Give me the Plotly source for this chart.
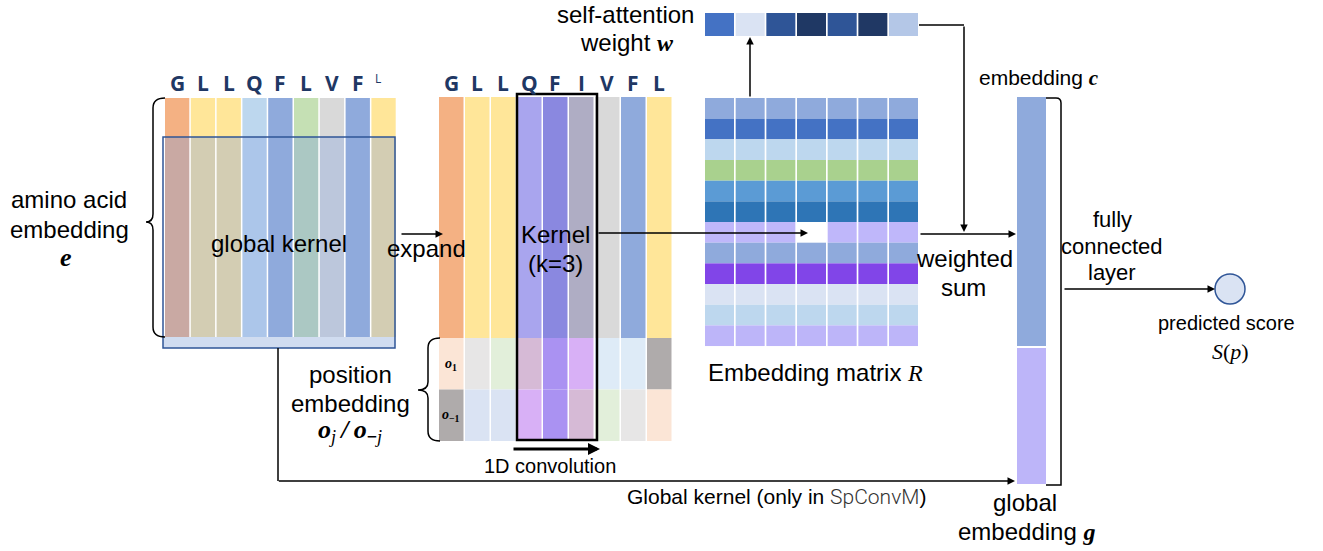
import plotly.graph_objects as go

# ---------------- data ----------------
aa_left = ["G", "L", "L", "Q", "F", "L", "V", "F", "L"]
left_top_colors = ["#F4B183", "#FFE699", "#FFE699", "#BDD7EE", "#8FAADC",
                   "#C5E0B4", "#D9D9D9", "#8FAADC", "#FFE699"]
left_body_colors = ["#C9A9A3", "#D3CDB3", "#D3CDB3", "#ACC6EA", "#8FAADC",
                    "#ABC8C3", "#BCC7DC", "#8FAADC", "#D3CDB3"]

aa_mid = ["G", "L", "L", "Q", "F", "I", "V", "F", "L"]
mid_colors = ["#F4B183", "#FFE699", "#FFE699", "#A9A5EE", "#8A88E0",
              "#AFADC4", "#D9D9D9", "#8FAADC", "#FFE699"]
pos_row1_colors = ["#FBE5D6", "#E7E6E6", "#E2EFDA", "#D6BAD6", "#AA92F2",
                   "#D8B0F6", "#DEEBF7", "#DEEBF7", "#AFABAB"]
pos_row2_colors = ["#AFABAB", "#DAE3F3", "#DAE3F3", "#D8B0F6", "#AA92F2",
                   "#D6BAD6", "#E2EFDA", "#E7E6E6", "#FBE5D6"]
pos_labels = ["<b><i>o</i></b><sub><b>1</b></sub>", "<b><i>o</i></b><sub><b>−1</b></sub>"]

R_row_colors = ["#8FAADC", "#4472C4", "#BDD7EE", "#A9D18E", "#5B9BD5", "#2E75B6",
                "#BFB7FA", "#8FAADC", "#8145E8", "#DAE3F3", "#BDD7EE", "#BDB5F9"]
R_n_cols = 7
R_blank_cell = (6, 3)  # (row, col) left white where the kernel arrow lands

attn_colors = ["#4472C4", "#DAE3F3", "#2F5597", "#1F3864", "#2F5597", "#203864", "#B4C7E7"]

c_color = "#8FAADC"
g_color = "#BDB5F9"

# ---------------- layout constants ----------------
W, H = 1323, 551
SANS = "Liberation Sans, Arial, sans-serif"
SERIF = "Liberation Serif, Times New Roman, serif"
NAVY = "#1F3864"

shapes = []
annotations = []


def rect(x0, y0, x1, y1, fill, line_color=None, line_width=0, layer="below"):
    shapes.append(dict(type="rect", xref="x", yref="y", x0=x0, y0=y0, x1=x1, y1=y1,
                       fillcolor=fill, layer=layer,
                       line=dict(color=line_color or fill, width=line_width)))


def path(d, color="black", width=1.5):
    shapes.append(dict(type="path", xref="x", yref="y", path=d,
                       line=dict(color=color, width=width), layer="above"))


def text(x, y, s, size=24, family=SANS, color="black", xanchor="center", **kw):
    annotations.append(dict(x=x, y=y, xref="x", yref="y", text=s, showarrow=False,
                            xanchor=xanchor, yanchor="middle",
                            font=dict(size=size, family=family, color=color), **kw))


def arrow(x0, y0, x1, y1, width=1.5, size=1.0):
    annotations.append(dict(x=x1, y=y1, ax=x0, ay=y0, xref="x", yref="y",
                            axref="x", ayref="y", text="", showarrow=True,
                            arrowhead=2, arrowsize=size, arrowwidth=width,
                            arrowcolor="black", standoff=0, startstandoff=0))


# ---- left block: amino acid embedding with global kernel ----
LX0, LP, LW = 165, 25.8, 24.3
for i, (aa, ct, cb) in enumerate(zip(aa_left, left_top_colors, left_body_colors)):
    x0 = LX0 + i * LP
    rect(x0, 98, x0 + LW, 137, ct)
    rect(x0, 137, x0 + LW, 337, cb)
    if i < len(aa_left) - 1:
        text(x0 + LW / 2, 83, "<b>%s</b>" % aa, size=21, family="Open Sans", color=NAVY)
    else:
        text(x0 + 7, 78, aa, size=12, family="Open Sans", color=NAVY)
rect(163, 337, 395, 348, "#D0DCF0")
shapes.append(dict(type="rect", xref="x", yref="y", x0=163, y0=137, x1=395, y1=348,
                   line=dict(color="#2F5597", width=1.5), fillcolor="rgba(0,0,0,0)",
                   layer="above"))
text(279, 243, "global kernel", size=24)
path("M 165,98 Q 153,98 153,108 L 153,214 Q 153,222 146,222 Q 153,222 153,230 "
     "L 153,327 Q 153,337 165,337")
text(69, 199, "amino acid", size=24)
text(69, 229, "embedding", size=24)
text(66, 257, "<b><i>e</i></b>", size=26, family=SERIF)

# expand
arrow(400, 234, 443, 234)
text(426, 248, "expand", size=24)

# ---- middle block: expanded sequence + position embeddings ----
MX0, MP, MW = 439, 26, 24.5
for i, (aa, c, p1, p2) in enumerate(zip(aa_mid, mid_colors, pos_row1_colors, pos_row2_colors)):
    x0 = MX0 + i * MP
    rect(x0, 97, x0 + MW, 338, c)
    rect(x0, 338, x0 + MW, 389.5, p1)
    rect(x0, 389.5, x0 + MW, 441, p2)
    text(x0 + MW / 2, 83, "<b>%s</b>" % aa, size=21, family="Open Sans", color=NAVY)
text(MX0 + MW / 2, 364, pos_labels[0], size=14, family=SERIF)
text(MX0 + MW / 2, 415, pos_labels[1], size=14, family=SERIF)
shapes.append(dict(type="rect", xref="x", yref="y", x0=517, y0=94, x1=597, y1=440,
                   line=dict(color="black", width=2.5), fillcolor="rgba(0,0,0,0)",
                   layer="above"))
text(555, 234, "Kernel", size=24)
text(555, 263, "(k=3)", size=24)
arrow(512, 449, 600, 449, width=3, size=0.8)
text(550, 466, "1D convolution", size=20)

path("M 440,338 Q 428,338 428,348 L 428,382 Q 428,390 418,390 Q 428,390 428,398 "
     "L 428,431 Q 428,441 440,441")
text(350, 374, "position", size=24)
text(350, 403, "embedding", size=24)
text(350, 431,
     "<b><i>o</i></b><sub><i>j</i></sub>\u2009<b><i>/</i></b>\u2009<b><i>o</i></b><sub><b>−</b><i>j</i></sub>",
     size=26, family=SERIF)

# ---- embedding matrix R ----
RX0, RP, RW = 705, 30.67, 29
RY0, RH = 98, 20.67
for r, col in enumerate(R_row_colors):
    for c in range(R_n_cols):
        if (r, c) == R_blank_cell:
            continue
        x0 = RX0 + c * RP
        rect(x0, RY0 + r * RH, x0 + RW, RY0 + (r + 1) * RH, col)
text(815, 372, "Embedding matrix <span style=\"font-family:Liberation Serif\"><i>R</i></span>",
     size=24)
arrow(597, 233, 808, 233)

# ---- self-attention weights ----
for c, col in enumerate(attn_colors):
    x0 = RX0 + c * RP
    rect(x0, 13, x0 + RW, 36, col)
arrow(750, 98, 750, 37)
text(625, 14, "self-attention", size=24)
text(627, 42, "weight <span style=\"font-family:Liberation Serif\"><b><i>w</i></b></span>", size=24)
path("M 919,25 L 964,25")
arrow(964, 25, 964, 232)
arrow(919, 234, 1016, 234)
text(964, 258, "weighted", size=24)
text(963, 287, "sum", size=24)

# ---- embeddings c and g ----
rect(1017, 97, 1046, 346, c_color)
rect(1017, 348, 1046, 484, g_color)
path("M 1046,98 L 1056,98 Q 1061,98 1061,103 L 1061,485 L 1046,485")
text(1039, 78, "embedding <span style=\"font-family:Liberation Serif\"><b><i>c</i></b></span>", size=21)
text(1025, 502, "global", size=24)
text(1026, 531, "embedding <span style=\"font-family:Liberation Serif\"><b><i>g</i></b></span>", size=24)

# ---- global kernel skip path ----
path("M 278,348 L 278,481")
arrow(277.3, 481, 1015, 481)
text(776, 497, "Global kernel (only in <span style=\"font-family:Roboto;font-weight:300;color:#333\">SpConvM</span>)",
     size=21)

# ---- fully connected layer & score ----
text(1112, 219, "fully", size=22)
text(1112, 246, "connected", size=22)
text(1112, 272, "layer", size=22)
arrow(1063, 289, 1215, 289)
shapes.append(dict(type="circle", xref="x", yref="y", x0=1215, y0=274, x1=1245, y1=304,
                   fillcolor="#DAE3F3", line=dict(color="#2F5597", width=1.5), layer="above"))
text(1226, 323, "predicted score", size=20)
text(1230, 351, "<i>S</i>(<i>p</i>)", size=22, family=SERIF)

fig = go.Figure()
fig.add_trace(go.Scatter(x=[0, W], y=[0, H], mode="markers",
                         marker=dict(opacity=0), hoverinfo="skip", showlegend=False))
fig.update_layout(
    width=W, height=H, margin=dict(l=0, r=0, t=0, b=0),
    paper_bgcolor="white", plot_bgcolor="white",
    xaxis=dict(range=[0, W], visible=False, fixedrange=True),
    yaxis=dict(range=[H, 0], visible=False, fixedrange=True),
    shapes=shapes, annotations=annotations, showlegend=False,
)
fig.write_html("out.html", config={"displayModeBar": False},
               post_script="document.body.style.margin='0px';document.body.style.overflow='hidden';")
